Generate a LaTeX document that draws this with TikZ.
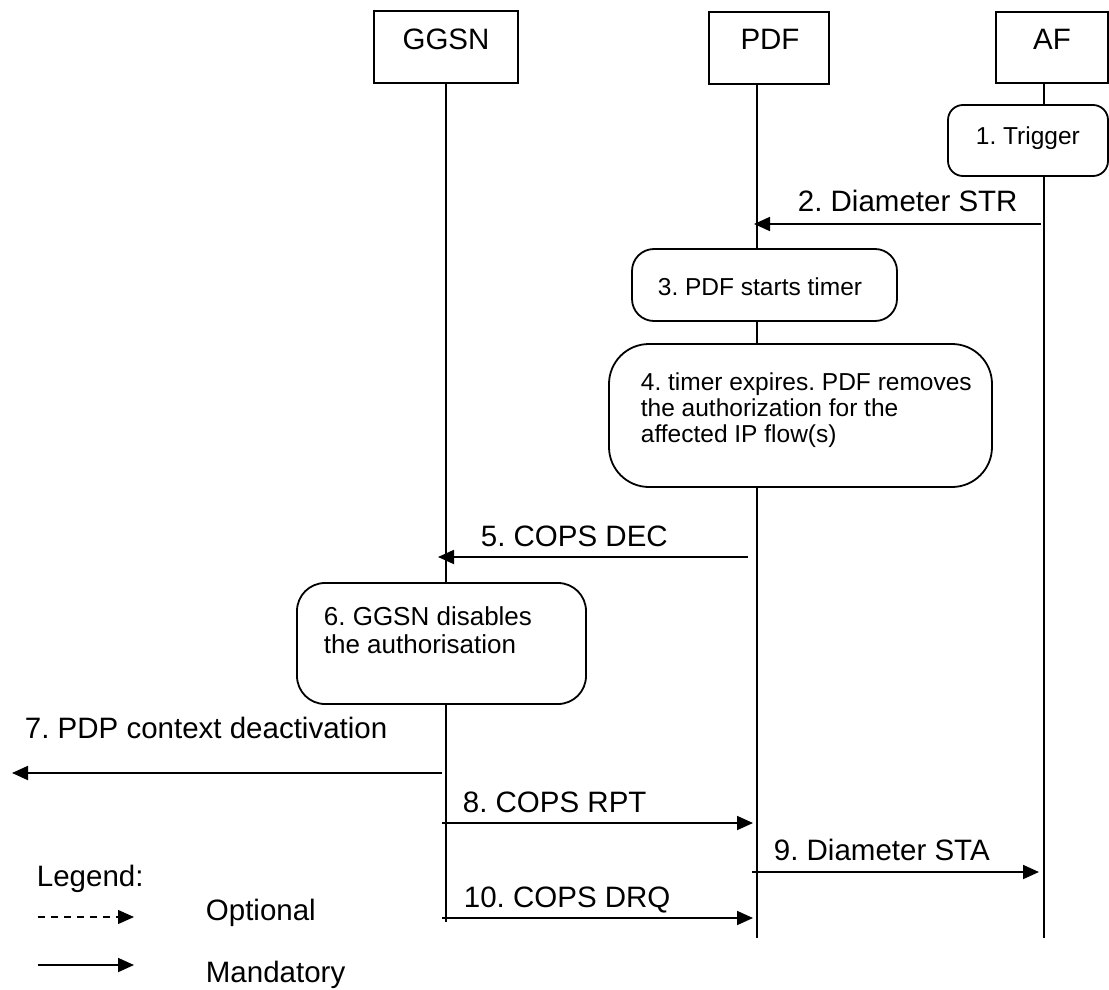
\documentclass[tikz,border=0pt]{standalone}
\usepackage{fontspec}
\setmainfont{Liberation Sans}
\usetikzlibrary{arrows.meta}
\frenchspacing
\begin{document}
\begin{tikzpicture}[x=1pt,y=-1pt,line width=1.8pt,
  big/.style={font=\fontsize{29.5}{34}\selectfont, inner sep=0pt},
  small/.style={font=\fontsize{24.5}{27}\selectfont, inner sep=0pt},
  mid/.style={font=\fontsize{26}{29}\selectfont, inner sep=0pt},
  entity/.style={draw, rectangle, inner sep=0pt, fill=white},
  rbox/.style={draw, rectangle, inner sep=0pt, fill=white},
  msg/.style={-{Triangle[length=16pt,width=14pt]}}]
\useasboundingbox (0,0) rectangle (1109,990);
% lifelines
\coordinate (gTop) at (446,83);  \coordinate (gBot) at (446,922);
\coordinate (pTop) at (757,84);  \coordinate (pBot) at (757,938);
\coordinate (aTop) at (1044,83); \coordinate (aBot) at (1044,938);
\draw (gTop) -- (gBot);
\draw (pTop) -- (pBot);
\draw (aTop) -- (aBot);
% entity boxes
\node[entity, minimum width=144pt, minimum height=72pt] (ggsn) at (446,47) {};
\node[entity, minimum width=120pt, minimum height=72pt] (pdf) at (769,48) {};
\node[entity, minimum width=112pt, minimum height=71pt] (af) at (1052,47.5) {};
\node[big, anchor=base] (ggsnL) at (446,50) {GGSN};
\node[big, anchor=base] (pdfL) at (770,50) {PDF};
\node[big, anchor=base] (afL) at (1052,50) {AF};
% 1. trigger
\node[rbox, rounded corners=15pt, minimum width=160pt, minimum height=71pt] (trig) at (1028,140.5) {};
\node[small, anchor=base west] (trigL) at (975,144) {1. Trigger};
% 2.
\coordinate (m2s) at (1041,224); \coordinate (m2e) at (754,224);
\draw[msg] (m2s) -- (m2e);
\node[big, anchor=base west] (m2L) at (797,211) {2. Diameter STR};
% 3.
\node[rbox, rounded corners=22pt, minimum width=265pt, minimum height=72pt] (b3) at (764.5,285) {};
\node[small, anchor=base west] (b3L) at (657,295) {3. PDF starts timer};
% 4.
\node[rbox, rounded corners=40pt, minimum width=383pt, minimum height=143pt] (b4) at (800.5,415.5) {};
\node[small, anchor=base west] (b4L1) at (640,390) {4. timer expires. PDF removes};
\node[small, anchor=base west] (b4L2) at (640,416) {the authorization for the};
\node[small, anchor=base west] (b4L3) at (640,442) {affected IP flow(s)};
% 5.
\coordinate (m5s) at (748,557); \coordinate (m5e) at (438,557);
\draw[msg] (m5s) -- (m5e);
\node[big, anchor=base west] (m5L) at (480,546) {5. COPS DEC};
% 6.
\node[rbox, rounded corners=28pt, minimum width=289pt, minimum height=121pt] (b6) at (441.5,643.5) {};
\node[mid, anchor=base west] (b6L1) at (323,625) {6. GGSN disables};
\node[mid, anchor=base west] (b6L2) at (323,653) {the authorisation};
% 7.
\coordinate (m7s) at (442,773); \coordinate (m7e) at (12,773);
\draw[msg] (m7s) -- (m7e);
\node[big, anchor=base west] (m7L) at (24,738) {7. PDP context deactivation};
% 8.
\coordinate (m8s) at (442,823); \coordinate (m8e) at (753,823);
\draw[msg] (m8s) -- (m8e);
\node[big, anchor=base west] (m8L) at (462,812) {8. COPS RPT};
% 9.
\coordinate (m9s) at (752,872); \coordinate (m9e) at (1039,872);
\draw[msg] (m9s) -- (m9e);
\node[big, anchor=base west] (m9L) at (773,860) {9. Diameter STA};
% 10.
\coordinate (m10s) at (442,918); \coordinate (m10e) at (753,918);
\draw[msg] (m10s) -- (m10e);
\node[big, anchor=base west] (m10L) at (463,907) {10. COPS DRQ};
% legend
\node[big, anchor=base west] (legL) at (36,886) {Legend:};
\coordinate (lo1) at (38,917); \coordinate (lo2) at (134,917);
\draw[msg, line width=1.2pt, dash pattern=on 7pt off 6pt] (lo1) -- (lo2);
\node[big, anchor=base west] (optL) at (205,920) {Optional};
\coordinate (lm1) at (38,965); \coordinate (lm2) at (134,965);
\draw[msg] (lm1) -- (lm2);
\node[big, anchor=base west] (manL) at (205,982) {Mandatory};
\end{tikzpicture}
\end{document}
